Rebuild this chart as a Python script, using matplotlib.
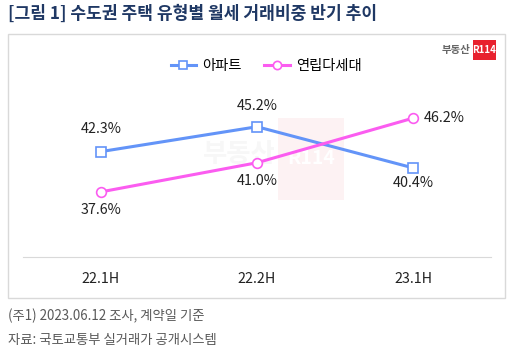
import matplotlib
matplotlib.use('Agg')
import matplotlib.pyplot as plt
from matplotlib.patches import Rectangle

plt.rcParams['font.family'] = ['Noto Sans CJK KR', 'DejaVu Sans']

periods = ['22.1H', '22.2H', '23.1H']
apt = [42.3, 45.2, 40.4]
multi = [37.6, 41.0, 46.2]
apt_name = '아파트'
multi_name = '연립다세대'

W, H = 511, 359
fig = plt.figure(figsize=(W / 100, H / 100), dpi=100)

def fx(px):
    return px / W

def fy(py):
    return 1 - py / H

# outer chart frame
fig.patches.append(Rectangle((fx(8), fy(298)), fx(505) - fx(8), fy(34) - fy(298),
                             transform=fig.transFigure, fill=False, edgecolor='#d9d9d9', lw=1))

fig.text(fx(8), fy(14), '[그림 1] 수도권 주택 유형별 월세 거래비중 반기 추이', fontsize=12.3,
         fontweight='bold', color='#1f3864', va='center', ha='left')

# logo top right
fig.text(fx(470), fy(50), '부동산', fontsize=7.5, color='#666666', ha='right', va='center', fontweight='bold')
fig.patches.append(Rectangle((fx(473), fy(60)), fx(23), fy(40) - fy(60), transform=fig.transFigure,
                             facecolor='#e8212e', edgecolor='none'))
fig.text(fx(484.5), fy(50), 'R114', fontsize=7, color='white', ha='center', va='center', fontweight='bold')

# faint watermark behind the plot
fig.patches.append(Rectangle((fx(278), fy(200)), fx(66), fy(118) - fy(200), transform=fig.transFigure,
                             facecolor='#fdf2f3', edgecolor='none', zorder=0))
fig.text(fx(276), fy(155), '부동산', fontsize=19, color='#f7f7f7', ha='right', va='center',
         fontweight='bold', zorder=0)
fig.text(fx(311), fy(158), 'R114', fontsize=14, color='white', ha='center', va='center',
         fontweight='bold', zorder=0.5)

ax = fig.add_axes([fx(23), fy(257), fx(491) - fx(23), fy(85.6) - fy(257)], zorder=2)
ax.patch.set_alpha(0)
x = range(len(periods))
blue = '#6394f8'
pink = '#fb5cf0'
ax.plot(x, apt, color=blue, lw=2.2, marker='s', markersize=6.5, markerfacecolor='white',
        markeredgecolor=blue, markeredgewidth=1.2, label=apt_name, zorder=3)
ax.plot(x, multi, color=pink, lw=2.2, marker='o', markersize=7, markerfacecolor='white',
        markeredgecolor=pink, markeredgewidth=1.2, label=multi_name, zorder=3)

lab = dict(fontsize=10.3, color='#222222', textcoords='offset points', ha='center', va='center')
ax.annotate('%.1f%%' % apt[0], (0, apt[0]), xytext=(0, 16), **lab)
ax.annotate('%.1f%%' % apt[1], (1, apt[1]), xytext=(0, 15), **lab)
ax.annotate('%.1f%%' % apt[2], (2, apt[2]), xytext=(0, -11), **lab)
ax.annotate('%.1f%%' % multi[0], (0, multi[0]), xytext=(0, -13), **lab)
ax.annotate('%.1f%%' % multi[1], (1, multi[1]), xytext=(0, -13), **lab)
lab['ha'] = 'left'
ax.annotate('%.1f%%' % multi[2], (2, multi[2]), xytext=(8, 0), **lab)

ax.set_xlim(-0.5, 2.5)
ax.set_ylim(30, 50)
ax.set_yticks([])
ax.set_xticks(list(x))
ax.set_xticklabels(periods, fontsize=10.3, color='#222222')
ax.tick_params(axis='x', length=0, pad=11)
for s in ['top', 'left', 'right']:
    ax.spines[s].set_visible(False)
ax.spines['bottom'].set_color('#d9d9d9')
ax.spines['bottom'].set_linewidth(0.8)

fig.legend(loc='center', bbox_to_anchor=(fx(266), fy(66)), ncol=2, frameon=False, fontsize=10.3,
           handlelength=1.8, columnspacing=1.6, handletextpad=0.4, markerscale=0.85)

fig.text(fx(8), fy(316), '(주1) 2023.06.12 조사, 계약일 기준', fontsize=9.6, color='#595959', va='center')
fig.text(fx(8), fy(340), '자료: 국토교통부 실거래가 공개시스템', fontsize=9.6, color='#595959', va='center')

fig.savefig('out.png', dpi=100)
